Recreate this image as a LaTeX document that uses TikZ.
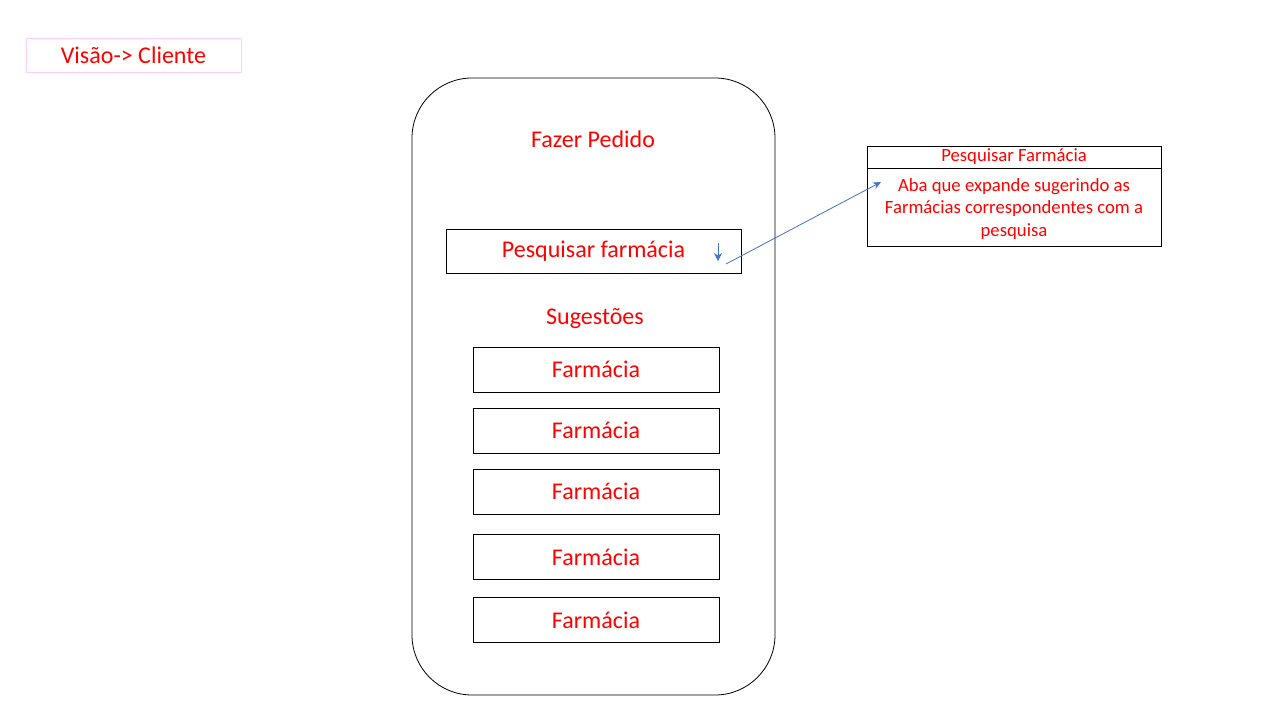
\documentclass[tikz,border=0pt]{standalone}
\usepackage{fontspec}
\setmainfont{Carlito}
\usetikzlibrary{arrows.meta,positioning}
\definecolor{txtColor}{HTML}{FF0000}
\definecolor{arrColor}{HTML}{4472C4}
\definecolor{tagColor}{HTML}{FFCCFF}
\newcommand{\bigtxt}{\fontsize{24}{29}\selectfont}
\newcommand{\smalltxt}{\fontsize{18.7}{22.5}\selectfont}
\tikzset{
	lbl/.style={text=txtColor, font=\bigtxt, inner sep=0},
	farmbox/.style={draw, line width=0.8pt, minimum width=246pt, minimum height=45pt, inner sep=0, text=txtColor, font=\bigtxt},
	infobox/.style={draw, line width=0.8pt, minimum width=294pt, inner sep=0, text=txtColor, font=\smalltxt, align=center},
	bluearr/.style={-{Stealth[length=8pt,width=7pt]}, arrColor, line width=0.8pt}
}
\begin{document}
\begin{tikzpicture}[x=1pt, y=-1pt]
			\fill[white] (0,0) rectangle (1280,720);
			\node[draw=tagColor, line width=0.8pt, minimum width=215pt, minimum height=34pt, inner sep=0, text=txtColor, font=\bigtxt] (tag) at (133.5, 55) {Visão-> Cliente};
			\draw[line width=0.8pt, rounded corners=60pt] (412, 78) rectangle (775, 695);
			\node[lbl] (title) at (593, 139) {Fazer Pedido};
			\node[farmbox, minimum width=295pt, minimum height=44pt] (search) at (593.5, 251) {Pesquisar farmácia};
			\coordinate (dd1) at (718, 243);
			\coordinate (dd2) at (718, 261);
			\draw[bluearr, -{Stealth[length=8pt,width=8pt]}] (dd1) -- (dd2);
			\node[lbl] (sug) at (595, 319) {Sugestões};
			\node[farmbox] (f1) at (596, 369.5) {Farmácia};
			\node[farmbox] (f2) at (596, 430.5) {Farmácia};
			\node[farmbox] (f3) at (596, 491.5) {Farmácia};
			\node[farmbox] (f4) at (596, 557) {Farmácia};
			\node[farmbox] (f5) at (596, 620) {Farmácia};
			\node[infobox, minimum height=22pt] (head) at (1014, 157) {Pesquisar Farmácia};
			\node[infobox, minimum height=78pt] (body) at (1014, 207) {};
			\node[text=txtColor, font=\smalltxt, align=center, inner sep=0] (bodytxt) at (1014, 209) {Aba que expande sugerindo as\\Farmácias correspondentes com a\\pesquisa};
			\coordinate (aStart) at (726, 264);
			\coordinate (aEnd) at (881, 182);
			\draw[bluearr] (aStart) -- (aEnd);
		\end{tikzpicture}
\end{document}
